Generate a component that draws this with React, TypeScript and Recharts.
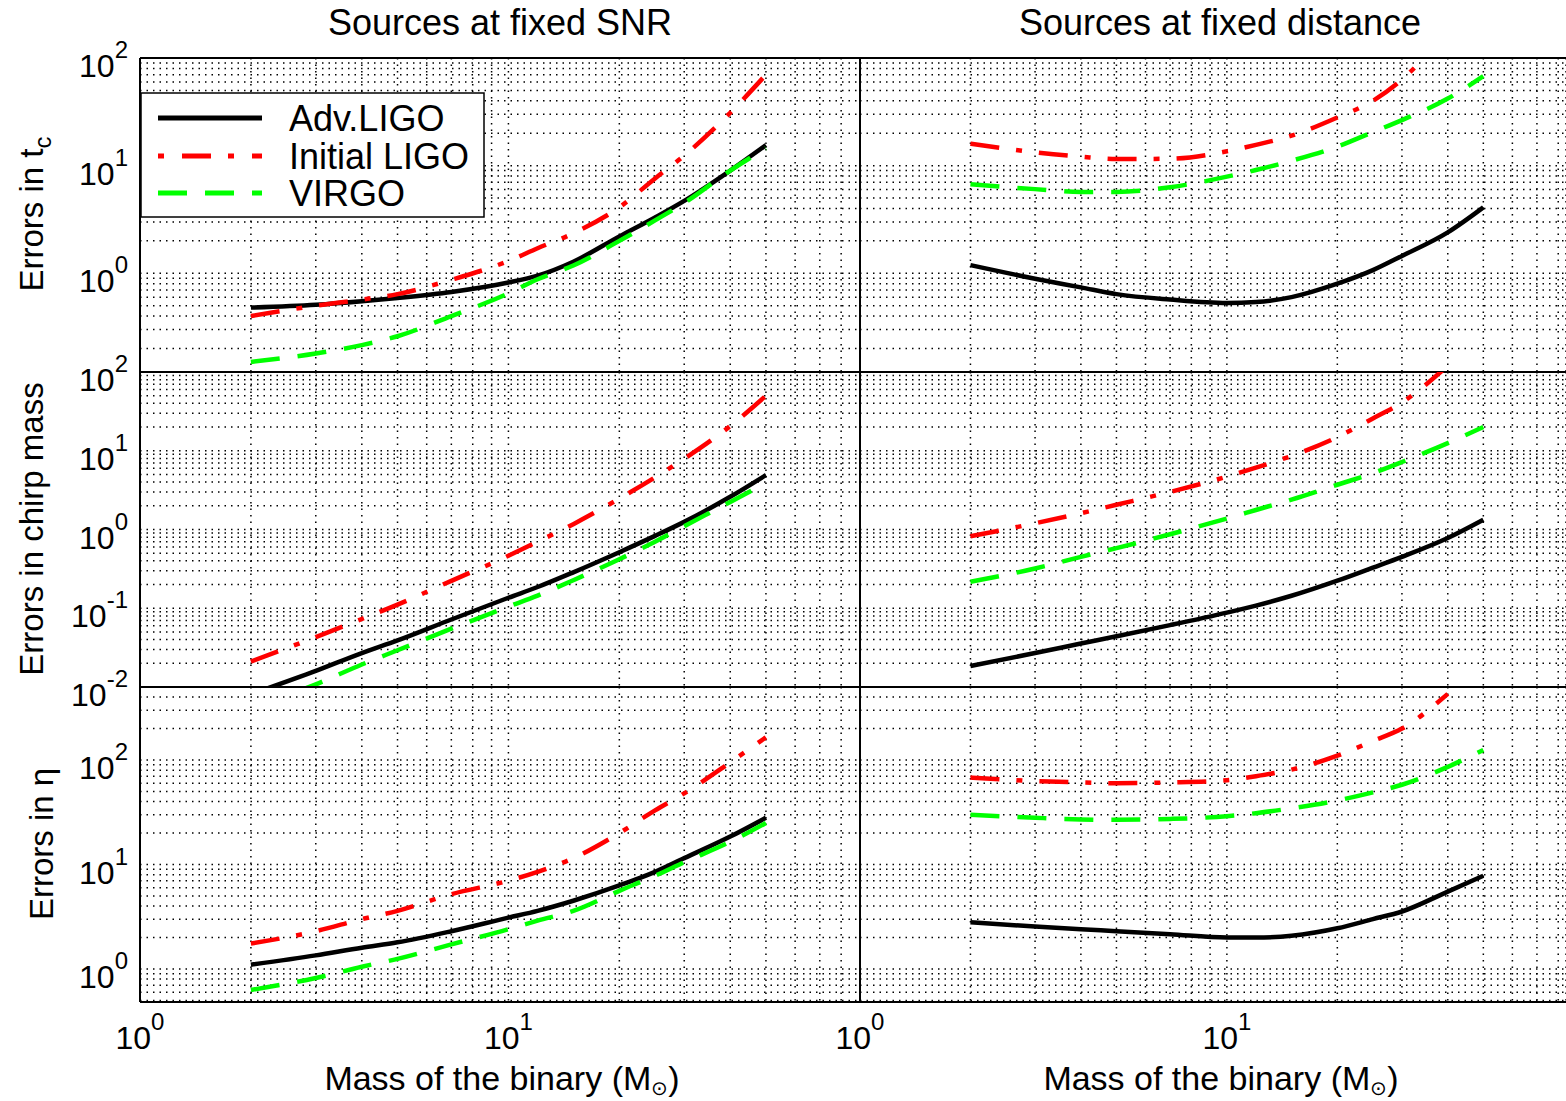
import React from 'react';
import { LineChart, Line, XAxis, YAxis, CartesianGrid, ReferenceLine } from 'recharts';

// binary mass (solar masses) at which the errors were computed
const masses = [2, 3, 4, 5, 7, 10, 12, 15, 20, 25, 30, 40, 50];

// errors in t_c
const tcSnrAdv = [0.48, 0.51, 0.55, 0.59, 0.67, 0.82, 0.95, 1.28, 2.2, 3.3, 4.7, 9.0, 15.5];
const tcSnrInit = [0.4, 0.5, 0.57, 0.64, 0.87, 1.3, 1.71, 2.35, 4.1, 7.6, 12.4, 31, 70];
const tcSnrVirgo = [0.15, 0.18, 0.215, 0.26, 0.4, 0.65, 0.88, 1.18, 2.0, 3.1, 4.5, 9.0, 14.5];
const tcDistAdv = [1.19, 0.89, 0.74, 0.64, 0.57, 0.53, 0.54, 0.6, 0.8, 1.07, 1.45, 2.4, 4.1];
const tcDistInit = [16, 13.3, 12.1, 11.5, 11.6, 13.6, 15.6, 19, 28, 40, 63, 180, null];
const tcDistVirgo = [6.7, 6.05, 5.7, 5.7, 6.3, 7.9, 9.1, 11.1, 15, 20.5, 26.5, 42, 68];

// errors in chirp mass
const mcSnrAdv = [0.0081, 0.016, 0.027, 0.039, 0.072, 0.136, 0.186, 0.286, 0.515, 0.83, 1.25, 2.6, 4.9];
const mcSnrInit = [0.021, 0.043, 0.073, 0.111, 0.223, 0.464, 0.7, 1.17, 2.47, 4.6, 7.9, 20.6, 50];
const mcSnrVirgo = [0.0055, 0.0108, 0.0193, 0.0293, 0.055, 0.105, 0.145, 0.227, 0.42, 0.7, 1.1, 2.24, 3.9];
const mcDistAdv = [0.0185, 0.027, 0.0356, 0.044, 0.061, 0.088, 0.108, 0.144, 0.224, 0.328, 0.45, 0.78, 1.33];
const mcDistInit = [0.82, 1.2, 1.61, 2.06, 3.0, 4.7, 6.1, 8.6, 14.9, 25.7, 41, 120, null];
const mcDistVirgo = [0.217, 0.32, 0.45, 0.58, 0.87, 1.38, 1.77, 2.4, 3.7, 5.2, 7.2, 12.5, 20];

// errors in eta
const etaSnrAdv = [1.1, 1.35, 1.6, 1.8, 2.3, 3.1, 3.6, 4.5, 6.3, 8.5, 11.5, 18.5, 28];
const etaSnrInit = [1.75, 2.3, 3.0, 3.6, 5.2, 7.0, 8.5, 11.5, 20, 33, 48, 95, 165];
const etaSnrVirgo = [0.63, 0.82, 1.05, 1.25, 1.72, 2.4, 2.9, 3.6, 5.6, 7.8, 10.5, 16.5, 25];
const etaDistAdv = [2.8, 2.55, 2.4, 2.3, 2.15, 2.0, 2.0, 2.08, 2.45, 3.0, 3.55, 5.5, 7.8];
const etaDistInit = [68, 63, 61, 60, 61, 64, 70, 81, 110, 152, 200, 430, null];
const etaDistVirgo = [30, 28, 27, 26.8, 27.3, 29, 31, 34.5, 41, 49, 58, 86, 125];

const seriesNames = ['Adv.LIGO', 'Initial LIGO', 'VIRGO'];
const columnTitles = ['Sources at fixed SNR', 'Sources at fixed distance'];
const rowLabels = ['Errors in t', 'Errors in chirp mass', 'Errors in \u03b7'];

// grid ticks (log decades with minor lines)
const xTicks = [1, 2, 3, 4, 5, 6, 7, 8, 9, 10, 20, 30, 40, 50, 60, 70, 80];
const yTicksTc = [
  0.2, 0.3, 0.4, 0.5, 0.6, 0.7, 0.8, 0.9, 1, 2, 3, 4, 5, 6, 7, 8, 9,
  10, 20, 30, 40, 50, 60, 70, 80, 90, 100,
];
const yTicksMc = [
  0.01, 0.02, 0.03, 0.04, 0.05, 0.06, 0.07, 0.08, 0.09,
  0.1, 0.2, 0.3, 0.4, 0.5, 0.6, 0.7, 0.8, 0.9, 1, 2, 3, 4, 5, 6, 7, 8, 9,
  10, 20, 30, 40, 50, 60, 70, 80, 90, 100,
];
const yTicksEta = [
  0.5, 0.6, 0.7, 0.8, 0.9, 1, 2, 3, 4, 5, 6, 7, 8, 9,
  10, 20, 30, 40, 50, 60, 70, 80, 90, 100, 200, 300, 400, 500,
];

const FONT = '"Liberation Sans", Arial, Helvetica, sans-serif';
const RED = '#ff0000';
const GREEN = '#00ff00';
const MT = 30;

const PLOT_TOP = [58, 372, 687];
const PLOT_H = [314, 315, 315];
const COLS = {
  left: { x: 140, w: 720, axisW: 140, xMax: 90 },
  right: { x: 860, w: 706, axisW: 40, xMax: 84 },
};

function decade(v: number): number | null {
  const l = Math.log10(v);
  const e = Math.round(l);
  return Math.abs(l - e) < 1e-6 ? e : null;
}

function YTick(props: any) {
  const { y, payload, tx, show } = props;
  const e = decade(payload.value);
  if (!show || e === null) return <g />;
  return (
    <text x={tx} y={y + 19} textAnchor="end" fontFamily={FONT} fontSize={32} fill="#000">
      10<tspan dy={-19} fontSize={24}>{String(e)}</tspan>
    </text>
  );
}

function XTick(props: any) {
  const { x, payload, by, show } = props;
  const e = decade(payload.value);
  if (!show || e === null) return <g />;
  return (
    <text x={x} y={by} textAnchor="middle" fontFamily={FONT} fontSize={32} fill="#000">
      10<tspan dy={-19} fontSize={24}>{String(e)}</tspan>
    </text>
  );
}

interface PanelProps {
  col: 'left' | 'right';
  row: number;
  adv: (number | null)[];
  init: (number | null)[];
  virgo: (number | null)[];
  yDomain: [number, number];
  yTicks: number[];
}

function Panel({ col, row, adv, init, virgo, yDomain, yTicks }: PanelProps) {
  const c = COLS[col];
  const h = PLOT_H[row];
  const bottomRow = row === 2;
  const xAxisH = bottomRow ? 98 : 30;
  const width = c.axisW + c.w;
  const height = MT + h + xAxisH;
  const data = masses.map((m, i) => ({ m, adv: adv[i], init: init[i], virgo: virgo[i] }));
  const border = { stroke: '#000', strokeWidth: 2 };

  return (
    <div style={{ position: 'absolute', left: c.x - c.axisW, top: PLOT_TOP[row] - MT, width, height }}>
      <LineChart width={width} height={height} data={data} margin={{ top: MT, right: 0, bottom: 0, left: 0 }}>
        <CartesianGrid stroke="#000" strokeWidth={1.5} strokeDasharray="1.5 5" />
        <XAxis
          dataKey="m"
          type="number"
          scale="log"
          domain={[1, c.xMax]}
          allowDataOverflow
          ticks={xTicks}
          interval={0}
          height={xAxisH}
          tickLine={false}
          axisLine={border}
          tick={(p: any) => <XTick {...p} by={MT + h + 47} show={bottomRow} />}
        />
        <YAxis
          type="number"
          scale="log"
          domain={yDomain}
          allowDataOverflow
          ticks={yTicks}
          interval={0}
          width={c.axisW}
          tickLine={false}
          axisLine={border}
          tick={(p: any) => <YTick {...p} tx={c.axisW - 12} show={col === 'left'} />}
        />
        {row === 0 && <ReferenceLine y={yDomain[1]} stroke="#000" strokeWidth={2} />}
        <Line dataKey="adv" type="monotone" stroke="#000" strokeWidth={4.5} dot={false} isAnimationActive={false} />
        <Line
          dataKey="init"
          type="monotone"
          stroke={RED}
          strokeWidth={4.5}
          strokeDasharray="29 17 6 17"
          dot={false}
          isAnimationActive={false}
        />
        <Line
          dataKey="virgo"
          type="monotone"
          stroke={GREEN}
          strokeWidth={4.5}
          strokeDasharray="29 18"
          dot={false}
          isAnimationActive={false}
        />
      </LineChart>
    </div>
  );
}

function Overlay() {
  const txt = { fontFamily: FONT, fill: '#000' };
  const legendY = [118, 156, 193];
  return (
    <svg
      width={1566}
      height={1100}
      style={{ position: 'absolute', left: 0, top: 0, pointerEvents: 'none' }}
    >
      <text x={500} y={35} textAnchor="middle" fontSize={36} {...txt}>{columnTitles[0]}</text>
      <text x={1220} y={35} textAnchor="middle" fontSize={36} {...txt}>{columnTitles[1]}</text>

      <text transform="translate(43,214) rotate(-90)" textAnchor="middle" fontSize={33} {...txt}>
        {rowLabels[0]}<tspan dy={8} fontSize={24}>c</tspan>
      </text>
      <text transform="translate(43,529) rotate(-90)" textAnchor="middle" fontSize={33} {...txt}>
        {rowLabels[1]}
      </text>
      <text transform="translate(53,844) rotate(-90)" textAnchor="middle" fontSize={33} {...txt}>
        {rowLabels[2]}
      </text>

      {[502, 1221].map((cx) => (
        <text key={cx} x={cx} y={1090} textAnchor="middle" fontSize={34} {...txt}>
          Mass of the binary (M<tspan dy={5} fontSize={20}>{'\u2299'}</tspan>
          <tspan dy={-5}>)</tspan>
        </text>
      ))}

      <rect x={141} y={93} width={343} height={124} fill="#fff" stroke="#000" strokeWidth={1.5} />
      <line x1={158} x2={262} y1={legendY[0]} y2={legendY[0]} stroke="#000" strokeWidth={5} />
      <line x1={158} x2={262} y1={legendY[1]} y2={legendY[1]} stroke={RED} strokeWidth={5} strokeDasharray="6 18 29 17" />
      <line x1={158} x2={262} y1={legendY[2]} y2={legendY[2]} stroke={GREEN} strokeWidth={5} strokeDasharray="29 18" />
      {seriesNames.map((n, i) => (
        <text key={n} x={289} y={legendY[i] + 13} fontSize={36} {...txt}>{n}</text>
      ))}
    </svg>
  );
}

export default function App() {
  return (
    <div>
      <Panel col="left" row={0} adv={tcSnrAdv} init={tcSnrInit} virgo={tcSnrVirgo} yDomain={[0.121, 100]} yTicks={yTicksTc} />
      <Panel col="right" row={0} adv={tcDistAdv} init={tcDistInit} virgo={tcDistVirgo} yDomain={[0.121, 100]} yTicks={yTicksTc} />
      <Panel col="left" row={1} adv={mcSnrAdv} init={mcSnrInit} virgo={mcSnrVirgo} yDomain={[0.01, 100]} yTicks={yTicksMc} />
      <Panel col="right" row={1} adv={mcDistAdv} init={mcDistInit} virgo={mcDistVirgo} yDomain={[0.01, 100]} yTicks={yTicksMc} />
      <Panel col="left" row={2} adv={etaSnrAdv} init={etaSnrInit} virgo={etaSnrVirgo} yDomain={[0.483, 500]} yTicks={yTicksEta} />
      <Panel col="right" row={2} adv={etaDistAdv} init={etaDistInit} virgo={etaDistVirgo} yDomain={[0.483, 500]} yTicks={yTicksEta} />
      <Overlay />
    </div>
  );
}
